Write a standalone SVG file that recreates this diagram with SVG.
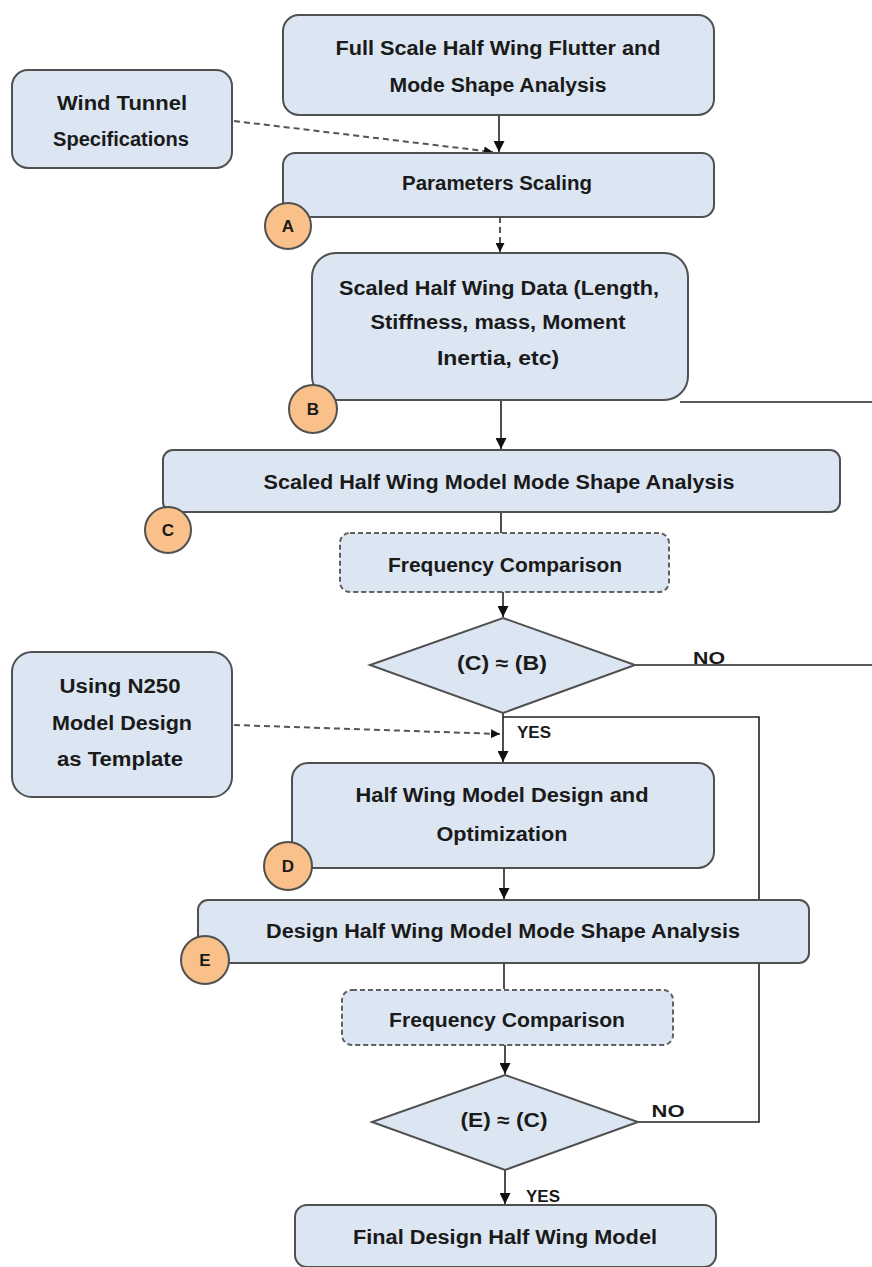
<svg xmlns="http://www.w3.org/2000/svg" width="872" height="1267" viewBox="0 0 872 1267">
<defs>
<style>
.box{fill:#dce6f2;stroke:#505050;stroke-width:2}
.dbox{fill:#dce6f2;stroke:#606060;stroke-width:2;stroke-dasharray:5 3}
.lbl{fill:#f9c089;stroke:#505050;stroke-width:2}
.t{font-family:"Liberation Sans",Arial,sans-serif;font-weight:bold;font-size:20px;fill:#1a1a1a;text-anchor:middle}
.s{font-size:17px}
.yn{font-size:17px}
.ln{fill:none;stroke:#222;stroke-width:1.6}
.dl{fill:none;stroke:#555;stroke-width:2;stroke-dasharray:6 4}
</style>
<marker id="ah" viewBox="0 0 10 10" refX="10" refY="5" markerWidth="9" markerHeight="9" orient="auto" markerUnits="userSpaceOnUse">
<path d="M0,0 L10,5 L0,10 z" fill="#111"/>
</marker>
<marker id="ah2" viewBox="0 0 10 10" refX="10" refY="5" markerWidth="11" markerHeight="11" orient="auto" markerUnits="userSpaceOnUse">
<path d="M0,0 L10,5 L0,10 z" fill="#111"/>
</marker>
</defs>
<rect width="872" height="1267" fill="#fff"/>

<g id="connectors">
<line class="ln" x1="499" y1="115" x2="499" y2="152" marker-end="url(#ah2)"/>
<line class="dl" x1="234" y1="121" x2="493" y2="152" marker-end="url(#ah)"/>
<line class="dl" x1="500" y1="217" x2="500" y2="252" marker-end="url(#ah)"/>
<line class="ln" x1="501" y1="400" x2="501" y2="449" stroke-width="2.6" marker-end="url(#ah2)"/>
<line class="ln" x1="680" y1="402" x2="872" y2="402"/>
<line class="ln" x1="501" y1="512" x2="501" y2="533"/>
<line class="ln" x1="503" y1="592" x2="503" y2="617" marker-end="url(#ah2)"/>
<line class="ln" x1="635" y1="665" x2="872" y2="665"/>
<line class="ln" x1="503" y1="713" x2="503" y2="762" marker-end="url(#ah2)"/>
<polyline class="ln" points="503,717 759,717 759,1122 638,1122"/>
<line class="dl" x1="234" y1="725" x2="500" y2="734" marker-end="url(#ah)"/>
<line class="ln" x1="504" y1="868" x2="504" y2="899" marker-end="url(#ah2)"/>
<line class="ln" x1="504" y1="963" x2="504" y2="989"/>
<line class="ln" x1="505" y1="1045" x2="505" y2="1074" marker-end="url(#ah2)"/>
<line class="ln" x1="505" y1="1170" x2="505" y2="1204" marker-end="url(#ah2)"/>
</g>

<g id="n1"><rect class="box" x="283" y="15" width="431" height="100" rx="16"/>
<text class="t" x="498" y="55" textLength="325" lengthAdjust="spacingAndGlyphs">Full Scale Half Wing Flutter and</text>
<text class="t" x="498" y="92" textLength="217" lengthAdjust="spacingAndGlyphs">Mode Shape Analysis</text></g>

<g id="wind"><rect class="box" x="12" y="70" width="220" height="98" rx="16"/>
<text class="t" x="122" y="110" textLength="130" lengthAdjust="spacingAndGlyphs">Wind Tunnel</text>
<text class="t" x="121" y="146" textLength="136" lengthAdjust="spacingAndGlyphs">Specifications</text></g>

<g id="n2"><rect class="box" x="283" y="153" width="431" height="64" rx="12"/>
<text class="t" x="497" y="190" textLength="190" lengthAdjust="spacingAndGlyphs">Parameters Scaling</text></g>
<g id="cA"><circle class="lbl" cx="288" cy="226" r="23"/><text class="t s" x="288" y="232">A</text></g>

<g id="n3"><rect class="box" x="312" y="253" width="376" height="147" rx="24"/>
<text class="t" x="499" y="295" textLength="320" lengthAdjust="spacingAndGlyphs">Scaled Half Wing Data (Length,</text>
<text class="t" x="498" y="329" textLength="255" lengthAdjust="spacingAndGlyphs">Stiffness, mass, Moment</text>
<text class="t" x="498" y="365" textLength="122" lengthAdjust="spacingAndGlyphs">Inertia, etc)</text></g>
<g id="cB"><circle class="lbl" cx="313" cy="409" r="24"/><text class="t s" x="313" y="415">B</text></g>

<g id="n4"><rect class="box" x="163" y="450" width="677" height="62" rx="10"/>
<text class="t" x="499" y="489" textLength="471" lengthAdjust="spacingAndGlyphs">Scaled Half Wing Model Mode Shape Analysis</text></g>
<g id="cC"><circle class="lbl" cx="168" cy="530" r="23"/><text class="t s" x="168" y="536">C</text></g>

<g id="f1"><rect class="dbox" x="340" y="533" width="329" height="59" rx="10"/>
<text class="t" x="505" y="572" textLength="234" lengthAdjust="spacingAndGlyphs">Frequency Comparison</text></g>

<g id="d1"><polygon class="box" points="503,618 635,665 503,713 370,665"/>
<text class="t" x="502" y="670" textLength="90" lengthAdjust="spacingAndGlyphs">(C) ≈ (B)</text></g>
<text class="t yn" x="709" y="664" textLength="32" lengthAdjust="spacingAndGlyphs">NO</text>
<text class="t yn" x="534" y="738" textLength="34" lengthAdjust="spacingAndGlyphs">YES</text>

<g id="n250"><rect class="box" x="12" y="652" width="220" height="145" rx="20"/>
<text class="t" x="120" y="693" textLength="121" lengthAdjust="spacingAndGlyphs">Using N250</text>
<text class="t" x="122" y="730" textLength="140" lengthAdjust="spacingAndGlyphs">Model Design</text>
<text class="t" x="120" y="766" textLength="126" lengthAdjust="spacingAndGlyphs">as Template</text></g>

<g id="n5"><rect class="box" x="292" y="763" width="422" height="105" rx="16"/>
<text class="t" x="502" y="802" textLength="293" lengthAdjust="spacingAndGlyphs">Half Wing Model Design and</text>
<text class="t" x="502" y="841" textLength="131" lengthAdjust="spacingAndGlyphs">Optimization</text></g>
<g id="cD"><circle class="lbl" cx="288" cy="866" r="24"/><text class="t s" x="288" y="872">D</text></g>

<g id="n6"><rect class="box" x="198" y="900" width="611" height="63" rx="10"/>
<text class="t" x="503" y="938" textLength="474" lengthAdjust="spacingAndGlyphs">Design Half Wing Model Mode Shape Analysis</text></g>
<g id="cE"><circle class="lbl" cx="205" cy="960" r="24"/><text class="t s" x="205" y="966">E</text></g>

<g id="f2"><rect class="dbox" x="342" y="990" width="331" height="55" rx="10"/>
<text class="t" x="507" y="1027" textLength="236" lengthAdjust="spacingAndGlyphs">Frequency Comparison</text></g>

<g id="d2"><polygon class="box" points="505,1075 638,1122 505,1170 372,1122"/>
<text class="t" x="504" y="1127" textLength="87" lengthAdjust="spacingAndGlyphs">(E) ≈ (C)</text></g>
<text class="t yn" x="668" y="1117" textLength="33" lengthAdjust="spacingAndGlyphs">NO</text>
<text class="t yn" x="543" y="1202" textLength="34" lengthAdjust="spacingAndGlyphs">YES</text>

<g id="n7"><rect class="box" x="295" y="1205" width="421" height="62" rx="12"/>
<text class="t" x="505" y="1244" textLength="304" lengthAdjust="spacingAndGlyphs">Final Design Half Wing Model</text></g>
</svg>
